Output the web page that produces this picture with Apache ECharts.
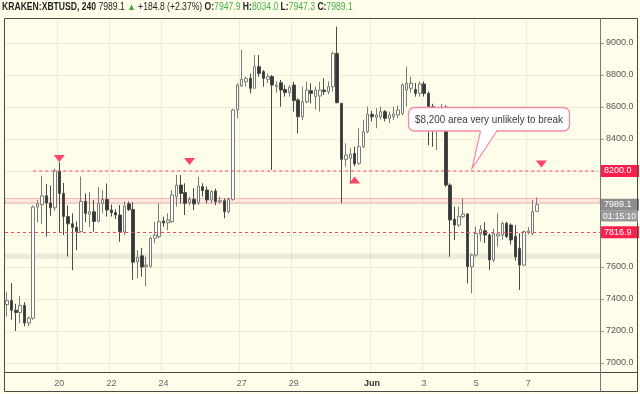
<!DOCTYPE html>
<html><head><meta charset="utf-8">
<script src="https://cdn.jsdelivr.net/npm/echarts@6/dist/echarts.min.js"></script>
<style>html,body{margin:0;padding:0;background:#fefde9;}#c{width:640px;height:394px;}</style>
</head><body><div id="c"></div>
<script>
// ---- data (4h candles, KRAKEN:XBTUSD) ----
const opens  = [7365,7390,7330,7315,7360,7250,7280,7975,7990,8045,8000,7970,8200,8060,7915,7870,7848,7822,8010,7930,7945,7885,7998,8022,7956,7940,7925,7820,7995,7960,
7633,7670,7602,7605,7780,7790,7887,7877,7883,8040,8112,8065,8002,8023,8002,8102,8081,8019,8075,8008,8014,7946,8023,8581,8731,8758,8779,8717,8852,8821,
8773,8790,8727,8752,8710,8690,8737,8644,8539,8633,8702,8665,8669,8706,8696,8727,8935,8623,8273,8279,8310,8248,8352,8446,8554,8535,8539,8571,8529,8539,
8550,8560,8706,8717,8710,8685,8744,8685,8602,8530,8560,8600,8112,7898,7862,7915,7931,7602,7675,7806,7827,7800,7644,7794,7800,7873,7862,7790,7717,7612,
7817,7810,7947.9];
const closes = [7390,7330,7315,7360,7250,7280,7975,7995,8045,8000,7970,8200,8060,7915,7870,7848,7822,8010,7935,7945,7885,7998,8022,7956,7940,7925,7820,7980,7960,7630,
7660,7600,7612,7780,7800,7883,7875,7894,8050,8112,8060,7998,8023,7994,8106,8077,8019,8071,8008,8014,7946,8023,8581,8737,8773,8779,8717,8852,8810,8779,
8790,8737,8737,8706,8690,8723,8640,8539,8633,8706,8685,8706,8706,8696,8727,8935,8627,8273,8300,8306,8244,8352,8446,8556,8539,8550,8571,8529,8550,8556,
8581,8737,8748,8748,8685,8744,8685,8602,8530,8560,8600,8112,7894,7862,7915,7931,7602,7675,7810,7835,7800,7644,7810,7806,7873,7790,7769,7664,7612,7821,
7825,7946,7989.1];
const lows   = [7290,7270,7200,7250,7230,7230,7270,7880,7870,7790,7920,7950,7820,7800,7665,7580,7705,7815,7880,7850,7820,7880,7935,7915,7915,7900,7758,7800,7950,7520,
7530,7540,7480,7595,7748,7779,7852,7830,7877,7977,7998,7925,7985,7956,7987,8040,7998,7998,7987,7995,7904,7935,8015,8529,8727,8727,8685,8717,8790,8727,
8750,8206,8690,8602,8665,8665,8571,8435,8519,8623,8623,8585,8571,8675,8680,8696,8623,7998,8227,8123,8230,8237,8342,8435,8510,8467,8520,8510,8500,8519,
8530,8550,8602,8690,8665,8665,8665,8362,8352,8331,8480,8100,7664,7769,7850,7904,7498,7435,7664,7760,7750,7581,7630,7727,7770,7780,7740,7640,7456,7605,
7805,7800,7947.3];
const highs  = [7445,7500,7370,7420,7380,7290,7985,8020,8170,8120,8110,8215,8255,8125,7985,7935,7885,8165,8060,8070,8020,8100,8080,8122,7990,7960,7987,8010,8010,8005,
7705,7720,7665,7790,7883,7998,7915,7935,8081,8175,8175,8123,8040,8092,8164,8123,8102,8081,8090,8040,8029,8035,8590,8748,8956,8790,8810,8925,8925,8831,
8810,8800,8760,8769,8737,8737,8758,8654,8727,8758,8748,8727,8758,8779,8760,8946,9102,8623,8373,8342,8352,8467,8519,8602,8575,8592,8602,8581,8570,8602,
8610,8748,8852,8790,8750,8760,8760,8696,8620,8600,8620,8610,8123,7977,7977,8029,7935,7685,7852,7862,7880,7810,7840,7935,7883,7883,7873,7862,7810,7827,
7850,8019,8034];
const startDate = Date.UTC(2019, 4, 18, 0, 0);   // first candle
const slotCount = 137;                           // candles + right margin slots
const tickIndex = [12, 24, 36, 54, 66, 84, 96, 108, 120];
const tickText  = ['20', '22', '24', '27', '29', 'Jun', '3', '5', '7'];
const downMarks = [[12, 8278], [42, 8259], [123, 8244]];
const upMarks   = [[80, 8144]];
const resistanceLevel = 8200.0, resistanceStart = 6;
const supportLevel = 7816.9;
const lastPrice = 7989.1;
const pinkBand = [8000, 8028];
const grayBand = [7650, 7685];
const hiddenYLabels = [7800, 8000, 8200];
const headerSegs = [
  ['KRAKEN:XBTUSD, 240', 'bold', '#1e1e1e'], [' 7989.1 ', 'normal', '#1e1e1e'], ['\u25B2', 'normal', '#3aa845'],
  [' +184.8 (+2.37%) ', 'normal', '#1e1e1e'], ['O:', 'bold', '#1e1e1e'], ['7947.9', 'normal', '#43b04a'],
  [' H:', 'bold', '#1e1e1e'], ['8034.0', 'normal', '#43b04a'], [' L:', 'bold', '#1e1e1e'], ['7947.3', 'normal', '#43b04a'],
  [' C:', 'bold', '#1e1e1e'], ['7989.1', 'normal', '#43b04a']
];
const calloutText = '$8,200 area very unlikely to break';
const countdownText = '01:15:10';

// ---- build ----
const FONT = '"Liberation Sans", Arial, sans-serif';
const cats = [];
for (let i = 0; i < slotCount; i++) {
  const d = new Date(startDate + i * 4 * 3600 * 1000);
  cats.push(d.toISOString().slice(0, 16));
}
const ohlc = opens.map((o, i) => [o, closes[i], lows[i], highs[i]]);
const isTick = i => tickIndex.indexOf(i) >= 0;

const mctx = document.createElement('canvas').getContext('2d');
function tw(t, weight, size) { mctx.font = weight + ' ' + size + 'px ' + FONT; return mctx.measureText(t).width; }

// header
let cum = 0; const hChildren = []; let widthToL = 0;
headerSegs.forEach((s, k) => {
  hChildren.push({ type: 'text', x: cum, y: 0, style: { text: s[0], fill: s[2], fontSize: 10, fontWeight: s[1], fontFamily: FONT, verticalAlign: 'middle', align: 'left' } });
  cum += tw(s[0], s[1], 10);
  if (k === 9) widthToL = cum;
});
const hScale = Math.min(1, 313 / widthToL);

// callout
const cw = tw(calloutText, 'normal', 11);
const cScale = Math.min(1, 148 / cw);
const pink = '#f48aa6';
const redDash = { color: '#f5475f', type: [3, 3], width: 1, opacity: 1 };
const clearLine = { color: 'rgba(0,0,0,0)', width: 1, type: 'solid' };

const chart = echarts.init(document.getElementById('c'));
chart.setOption({
  animation: false,
  backgroundColor: '#fefde9',
  textStyle: { fontFamily: FONT },
  grid: { left: 5, top: 18, right: 40, bottom: 22 },
  xAxis: {
    type: 'category', data: cats, boundaryGap: true,
    axisLine: { show: false }, axisTick: { show: false },
    axisLabel: {
      interval: (i) => isTick(i), margin: 7, color: '#666', fontSize: 9,
      formatter: (v, i) => { const t = tickText[tickIndex.indexOf(i)]; return t === 'Jun' ? '{b|Jun}' : t; },
      rich: { b: { fontWeight: 'bold', color: '#333', fontSize: 9 } }
    },
    splitLine: { show: true, interval: (i) => isTick(i), lineStyle: { color: '#eeecd6', width: 1 } }
  },
  yAxis: {
    type: 'value', position: 'right', min: 6943.75, max: 9156.25, splitNumber: 11,
    axisLine: { show: false },
    axisTick: { show: true, length: 4, lineStyle: { color: '#999' } },
    axisLabel: { showMinLabel: false, showMaxLabel: false, margin: 6, color: '#555', fontSize: 9,
      formatter: v => hiddenYLabels.indexOf(v) >= 0 ? '' : v.toFixed(1) },
    splitLine: { lineStyle: { color: '#eeecd6' } }
  },
  series: [
    {
      type: 'candlestick', data: ohlc, barWidth: 3, z: 3,
      itemStyle: { color: '#fffffa', color0: '#363636', borderColor: '#7a7a7a', borderColor0: '#4a4a4a', borderWidth: 1 },
      markArea: {
        silent: true,
        data: [
          [{ yAxis: pinkBand[0], itemStyle: { color: 'rgba(255,150,165,0.18)', borderColor: 'rgba(244,120,140,0.5)', borderWidth: 1 } }, { yAxis: pinkBand[1] }],
          [{ yAxis: grayBand[0], itemStyle: { color: 'rgba(190,188,175,0.28)' } }, { yAxis: grayBand[1] }]
        ]
      },
      markLine: {
        silent: true, symbol: 'none', animation: false,
        label: { position: 'end', fontSize: 9, color: '#fff', padding: [2, 3, 1, 3], width: 32, align: 'left' },
        data: [
          { yAxis: supportLevel, lineStyle: redDash,
            label: { formatter: supportLevel.toFixed(1), backgroundColor: '#ff1f4b', distance: 1 } },
          { yAxis: resistanceLevel, lineStyle: clearLine,
            label: { formatter: resistanceLevel.toFixed(1), backgroundColor: '#ff1f4b', distance: 1 } },
          { yAxis: lastPrice, lineStyle: clearLine,
            label: { formatter: lastPrice.toFixed(1), backgroundColor: '#8d8d8d', distance: 1 } }
        ]
      }
    },
    { type: 'line', data: [[resistanceStart, resistanceLevel], [slotCount - 1, resistanceLevel]], symbol: 'none', z: 4,
      lineStyle: redDash, silent: true },
    { type: 'scatter', data: downMarks, symbol: 'triangle', symbolRotate: 180, symbolSize: [11, 7], z: 4,
      itemStyle: { color: '#ff1744' } },
    { type: 'scatter', data: upMarks, symbol: 'triangle', symbolSize: [11, 7], z: 4,
      itemStyle: { color: '#ff1744' } }
  ],
  graphic: [
    { type: 'group', x: 2, y: 7, scaleX: hScale, z: 100, children: hChildren },
    { type: 'rect', z: 100, shape: { x: 4.5, y: 18.5, width: 633, height: 373 }, style: { fill: null, stroke: '#4a4a4a', lineWidth: 1 } },
    { type: 'line', z: 100, shape: { x1: 4.5, y1: 372.5, x2: 637.5, y2: 372.5 }, style: { stroke: '#4a4a4a', lineWidth: 1 } },
    { type: 'line', z: 100, shape: { x1: 600.5, y1: 18.5, x2: 600.5, y2: 391.5 }, style: { stroke: '#777', lineWidth: 1 } },
    { type: 'rect', z: 101, shape: { x: 601, y: 210.5, width: 37, height: 11 }, style: { fill: '#9a9a9a' } },
    { type: 'text', z: 102, x: 619.5, y: 216.5, style: { text: countdownText, fill: '#fff', fontSize: 8.5, fontFamily: FONT, align: 'center', verticalAlign: 'middle' } },
    { type: 'rect', z: 110, shape: { x: 408.5, y: 107.5, width: 161, height: 23.5, r: 6 }, style: { fill: '#fff', stroke: pink, lineWidth: 1.3 } },
    { type: 'polygon', z: 111, shape: { points: [[480.5, 129.5], [472, 168.5], [497, 129.5]] }, style: { fill: '#fff' } },
    { type: 'polyline', z: 112, shape: { points: [[480.5, 131], [472, 168.5], [497, 131]] }, style: { stroke: pink, lineWidth: 1.2, fill: null } },
    { type: 'group', x: 489, y: 119.5, scaleX: cScale, z: 113, children: [
      { type: 'text', x: 0, y: 0, z: 113, style: { text: calloutText, fill: '#3a3a3a', fontSize: 11, fontFamily: FONT, align: 'center', verticalAlign: 'middle' } }
    ] }
  ]
});
</script></body></html>
